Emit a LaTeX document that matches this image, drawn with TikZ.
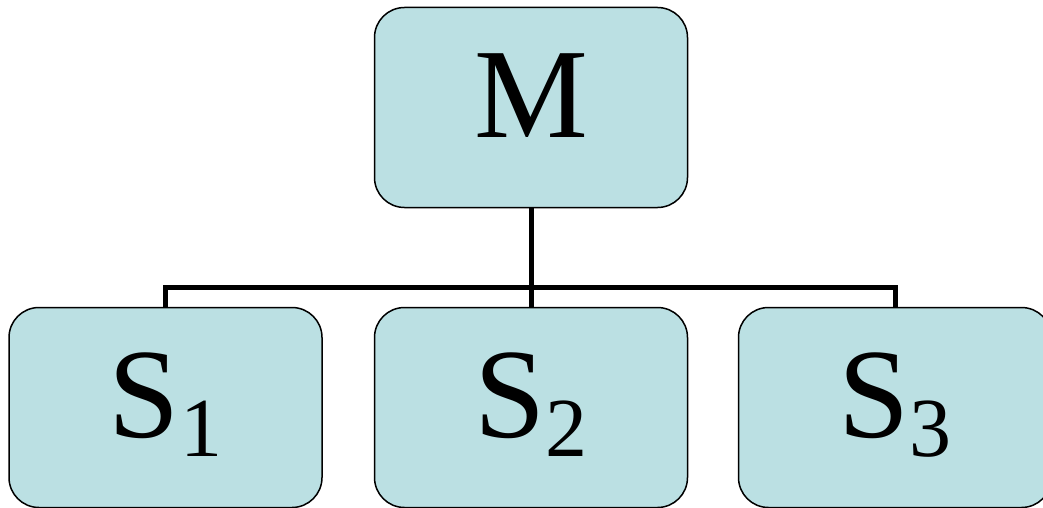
\documentclass[tikz,border=0pt]{standalone}
\usepackage{fontspec}
\setmainfont{Liberation Serif}
\definecolor{boxfill}{RGB}{187,224,227}
\begin{document}
\begin{tikzpicture}[x=1pt,y=-1pt,
  box/.style={draw=black,line width=1.5pt,fill=boxfill,rounded corners=30pt,
    minimum width=313pt,minimum height=200pt,inner sep=0pt,
    text height=85pt,text depth=26pt,
    font=\fontsize{128}{128}\selectfont},
  link/.style={line width=5pt,line join=miter}]
\useasboundingbox (0,0) rectangle (1043,508);
\node[box] (M) at (531,107.5) {M};
\node[box] (S1) at (165.5,407.5) {S\raisebox{-19pt}{\fontsize{84}{84}\selectfont 1}};
\node[box] (S2) at (531,407.5) {S\raisebox{-19pt}{\fontsize{84}{84}\selectfont 2}};
\node[box] (S3) at (895,407.5) {S\raisebox{-19pt}{\fontsize{84}{84}\selectfont 3}};
\coordinate (bar) at (531,287.5);
\draw[link] (M.south) -- (S2.north);
\draw[link] (S1.north) -- (S1.north |- bar) -- (S3.north |- bar) -- (S3.north);
\end{tikzpicture}
\end{document}
